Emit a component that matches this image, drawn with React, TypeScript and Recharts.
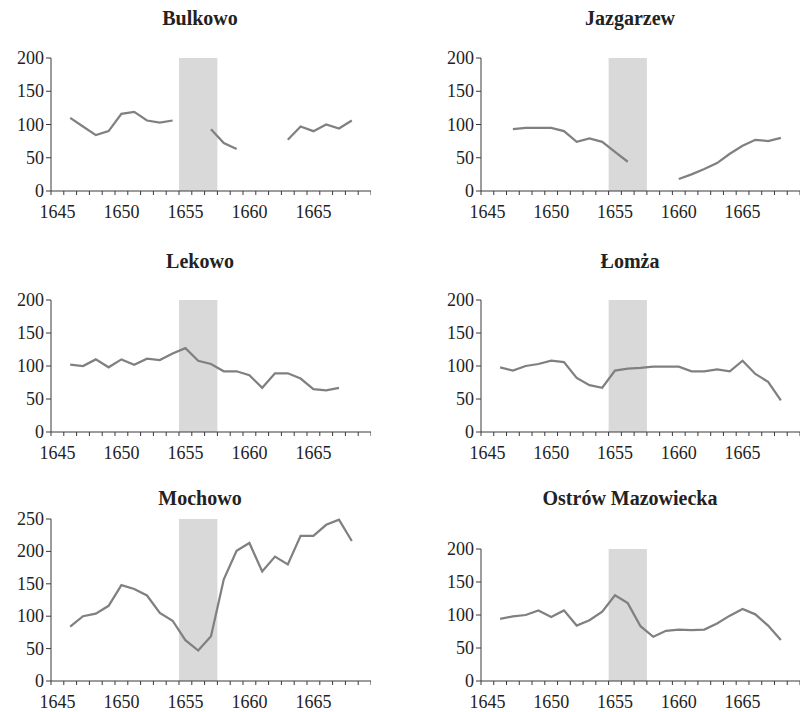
import React from "react";
import { LineChart, Line, XAxis, YAxis, ReferenceArea } from "recharts";

const years = [
  1645, 1646, 1647, 1648, 1649, 1650, 1651, 1652, 1653, 1654, 1655, 1656, 1657,
  1658, 1659, 1660, 1661, 1662, 1663, 1664, 1665, 1666, 1667, 1668, 1669,
];

// one value per year (1645-1669), null = no data
const bulkowo = [
  null, 110, 97, 84, 90, 116, 119, 106, 103, 106, null, null, 93, 72, 63, null,
  null, null, 77, 97, 90, 100, 94, 106, null,
];
const jazgarzew = [
  null, null, 93, 95, 95, 95, 90, 74, 79, 74, 59, 44, null, null, null, 18, 25,
  33, 42, 56, 68, 77, 75, 80, null,
];
const lekowo = [
  null, 102, 100, 110, 98, 110, 102, 111, 109, 119, 127, 108, 103, 92, 92, 86,
  67, 89, 89, 81, 65, 63, 67, null, null,
];
const lomza = [
  null, 98, 93, 100, 103, 108, 106, 82, 71, 67, 93, 96, 97, 99, 99, 99, 92, 92,
  95, 92, 108, 88, 76, 48, null,
];
const mochowo = [
  null, 84, 100, 104, 116, 148, 142, 132, 105, 93, 63, 47, 69, 157, 201, 213,
  169, 192, 180, 224, 224, 241, 249, 216, null,
];
const ostrow = [
  null, 94, 98, 100, 107, 97, 107, 84, 92, 105, 130, 118, 83, 67, 76, 78, 77,
  78, 87, 99, 109, 101, 84, 62, null,
];

const ticks200 = [0, 50, 100, 150, 200];
const ticks250 = [0, 50, 100, 150, 200, 250];
const warStart = 1655;
const warEnd = 1657;

const FONT = "'Liberation Serif', 'Times New Roman', serif";
const AXIS = "#3a3a3a";
const TEXT = "#222";

const XTick = (props: any) => {
  const { x, y, payload, index } = props;
  const off = payload && payload.offset ? payload.offset : 6.4;
  return (
    <g>
      <line x1={x - off} x2={x - off} y1={y - 7} y2={y - 3} stroke={AXIS} />
      {index === years.length - 1 && (
        <line x1={x + off} x2={x + off} y1={y - 7} y2={y - 3} stroke={AXIS} />
      )}
      {payload.value % 5 === 0 && (
        <text
          x={x}
          y={y + 20}
          textAnchor="middle"
          style={{ fontSize: 18, fontFamily: FONT, fill: TEXT }}
        >
          {payload.value}
        </text>
      )}
    </g>
  );
};

const YTick = (props: any) => {
  const { x, y, payload } = props;
  return (
    <text
      x={x}
      y={y + 6}
      textAnchor="end"
      style={{ fontSize: 18, fontFamily: FONT, fill: TEXT }}
    >
      {payload.value}
    </text>
  );
};

type PanelProps = {
  title: string;
  values: (number | null)[];
  left: number;
  width: number;
  titleX: number;
  titleY: number;
  plotTop: number;
  plotBottom: number;
  yTicks: number[];
};

const Panel = ({
  title,
  values,
  left,
  width,
  titleX,
  titleY,
  plotTop,
  plotBottom,
  yTicks,
}: PanelProps) => {
  const data = years.map((year, i) => ({ year, value: values[i] }));
  const yMax = yTicks[yTicks.length - 1];
  const marginTop = 10;
  const axisH = 32;
  const height = plotBottom - plotTop + marginTop + axisH;
  return (
    <>
      <div
        style={{
          position: "absolute",
          left: titleX - 200,
          top: titleY - 11,
          width: 400,
          textAlign: "center",
          fontFamily: FONT,
          fontWeight: "bold",
          fontSize: 20,
          lineHeight: "22px",
          color: TEXT,
        }}
      >
        {title}
      </div>
      <div style={{ position: "absolute", left, top: plotTop - marginTop }}>
        <LineChart
          width={width}
          height={height}
          data={data}
          margin={{ top: marginTop, right: 0, bottom: 0, left: 0 }}
        >
          <ReferenceArea
            x1={warStart}
            x2={warEnd}
            y1={0}
            y2={yMax}
            fill="#d9d9d9"
            fillOpacity={1}
            stroke="none"
          />
          <XAxis
            dataKey="year"
            scale="band"
            interval={0}
            tickLine={false}
            tickSize={5}
            tickMargin={2}
            height={axisH}
            axisLine={{ stroke: AXIS }}
            tick={<XTick />}
          />
          <YAxis
            domain={[0, yMax]}
            ticks={yTicks}
            interval={0}
            width={51}
            tickSize={5}
            tickMargin={2}
            axisLine={{ stroke: AXIS }}
            tickLine={{ stroke: AXIS }}
            tick={<YTick />}
          />
          <Line
            dataKey="value"
            stroke="#808080"
            strokeWidth={2.25}
            dot={false}
            activeDot={false}
            isAnimationActive={false}
          />
        </LineChart>
      </div>
    </>
  );
};

export default function App() {
  return (
    <div
      style={{
        position: "absolute",
        left: 0,
        top: 0,
        width: 800,
        height: 712,
        background: "#fff",
        overflow: "hidden",
      }}
    >
      <Panel title="Bulkowo" values={bulkowo} left={0} width={371} titleX={200} titleY={18} plotTop={58} plotBottom={191} yTicks={ticks200} />
      <Panel title="Jazgarzew" values={jazgarzew} left={430} width={370} titleX={630} titleY={18} plotTop={58} plotBottom={191} yTicks={ticks200} />
      <Panel title="Lekowo" values={lekowo} left={0} width={371} titleX={200} titleY={261} plotTop={300} plotBottom={432} yTicks={ticks200} />
      <Panel title="Łomża" values={lomza} left={430} width={370} titleX={630} titleY={261} plotTop={300} plotBottom={432} yTicks={ticks200} />
      <Panel title="Mochowo" values={mochowo} left={0} width={371} titleX={200} titleY={498} plotTop={519} plotBottom={681} yTicks={ticks250} />
      <Panel title="Ostrów Mazowiecka" values={ostrow} left={430} width={370} titleX={630} titleY={498} plotTop={549} plotBottom={681} yTicks={ticks200} />
    </div>
  );
}
